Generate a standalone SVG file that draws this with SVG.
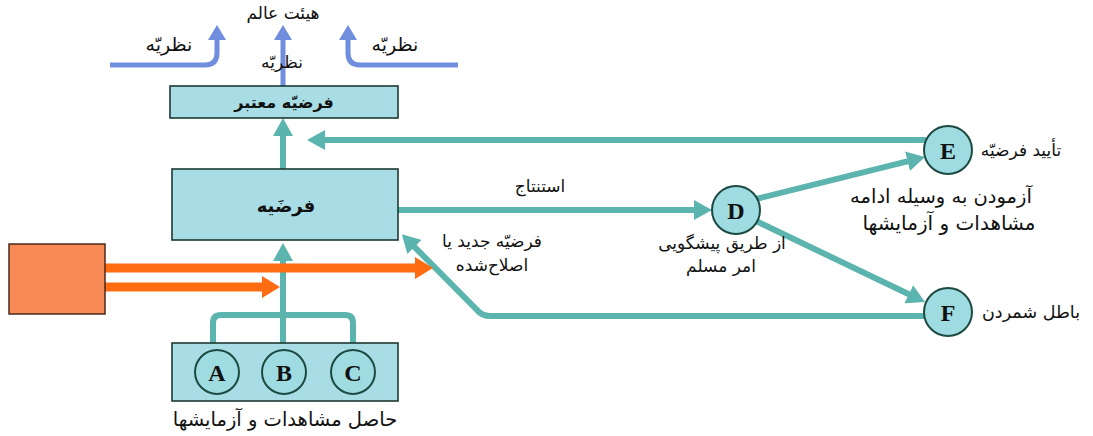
<svg xmlns="http://www.w3.org/2000/svg" width="1093" height="436" viewBox="0 0 1093 436">
<style>
.box{fill:#a8dde5;stroke:#1d3a32;stroke-width:1.6}
.node{fill:#9edce2;stroke:#1d4a40;stroke-width:2}
.teal{fill:none;stroke:#5cb4ae;stroke-width:6}
.blue{fill:none;stroke:#6f8ede;stroke-width:5}
.orange{fill:none;stroke:#ff6c12;stroke-width:9}
.fa{font-family:"DejaVu Sans","Noto Sans",sans-serif;font-size:17px;fill:#111}
.fab{font-family:"DejaVu Sans","Noto Sans",sans-serif;font-size:16px;font-weight:bold;fill:#111}
.let{font-family:"Liberation Serif",serif;font-size:24px;font-weight:bold;fill:#111}
</style>
<defs>
<marker id="mt" markerUnits="userSpaceOnUse" viewBox="0 0 18 20" markerWidth="18" markerHeight="20" refX="3" refY="10" orient="auto"><path d="M0,0 L18,10 L0,20 z" fill="#5cb4ae"/></marker>
<marker id="mb" markerUnits="userSpaceOnUse" viewBox="0 0 15 18" markerWidth="15" markerHeight="18" refX="3" refY="9" orient="auto"><path d="M0,0 L15,9 L0,18 z" fill="#6f8ede"/></marker>
<marker id="mo" markerUnits="userSpaceOnUse" viewBox="0 0 18 22" markerWidth="18" markerHeight="22" refX="3" refY="11" orient="auto"><path d="M0,0 L18,11 L0,22 z" fill="#ff6c12"/></marker>
</defs>
<rect width="1093" height="436" fill="#ffffff"/>
<g id="connectors">
<path class="blue" d="M110 65 H205 Q217 65 217 53 V37" marker-end="url(#mb)"/>
<path class="blue" d="M283 86 V37" marker-end="url(#mb)"/>
<path class="blue" d="M458 65 H360 Q348 65 348 53 V37" marker-end="url(#mb)"/>
<path class="teal" d="M283 169 V133" marker-end="url(#mt)"/>
<path class="teal" d="M926 140 H322" marker-end="url(#mt)"/>
<path class="teal" d="M398 210 H697" marker-end="url(#mt)"/>
<path class="teal" d="M756 199 L910.4 160.6" marker-end="url(#mt)"/>
<path class="teal" d="M756 221 L911.5 295.5" marker-end="url(#mt)"/>
<path class="teal" d="M924 316 H490 Q482 316 477 310 L412.4 244.8" marker-end="url(#mt)"/>
<path class="teal" d="M213 343 V323 Q213 315 221 315 H345 Q353 315 353 323 V343"/>
<path class="teal" d="M283 343 V258" marker-end="url(#mt)"/>
<path class="orange" d="M105 268 H418" marker-end="url(#mo)"/>
<path class="orange" d="M105 287 H265" marker-end="url(#mo)"/>
</g>
<g id="world">
<text class="fa" x="283" y="19" text-anchor="middle">هیئت عالم</text>
<text class="fa" x="169" y="51" text-anchor="middle" style="font-size:19px">نظریّه</text>
<text class="fa" x="395" y="51" text-anchor="middle" style="font-size:19px">نظریّه</text>
<text class="fa" x="282" y="68" text-anchor="middle">نظریّه</text>
</g>
<g id="valid">
<rect class="box" x="170" y="86" width="228" height="32"/>
<text class="fab" x="284" y="108" text-anchor="middle">فرضیّه معتبر</text>
</g>
<g id="hypothesis">
<rect class="box" x="172" y="169" width="226" height="71"/>
<text class="fab" x="286" y="212" text-anchor="middle" style="font-size:18px">فرضَیه</text>
</g>
<g id="orange-box">
<rect x="9" y="244" width="96" height="70" fill="#f88a56" stroke="#4a2a1a" stroke-width="1.5"/>
</g>
<g id="observations">
<rect class="box" x="172" y="343" width="226" height="58"/>
<circle class="node" cx="217" cy="372" r="22"/>
<text class="let" x="217" y="381" text-anchor="middle">A</text>
<circle class="node" cx="284" cy="372" r="22"/>
<text class="let" x="284" y="381" text-anchor="middle">B</text>
<circle class="node" cx="353" cy="372" r="22"/>
<text class="let" x="353" y="381" text-anchor="middle">C</text>
<text class="fa" x="285" y="426" text-anchor="middle" style="font-size:19.5px">حاصل مشاهدات و آزمایشها</text>
</g>
<g id="D">
<circle class="node" cx="736" cy="210" r="24"/>
<text class="let" x="736" y="219" text-anchor="middle">D</text>
<text class="fa" x="722" y="249" text-anchor="middle">از طریق پیشگویی</text>
<text class="fa" x="721" y="272" text-anchor="middle">امر مسلم</text>
</g>
<g id="E">
<circle class="node" cx="948" cy="150" r="24"/>
<text class="let" x="948" y="159" text-anchor="middle">E</text>
<text class="fa" x="1021" y="156" text-anchor="middle">تأیید فرضیّه</text>
</g>
<g id="F">
<circle class="node" cx="948" cy="312" r="24"/>
<text class="let" x="948" y="321" text-anchor="middle">F</text>
<text class="fa" x="1031" y="318" text-anchor="middle" style="font-size:17.5px">باطل شمردن</text>
</g>
<g id="labels">
<text class="fa" x="540" y="192" text-anchor="middle">استنتاج</text>
<text class="fa" x="492" y="247" text-anchor="middle">فرضیّه جدید یا</text>
<text class="fa" x="492" y="271" text-anchor="middle">اصلاح‌شده</text>
<text class="fa" x="941" y="203" text-anchor="middle" style="font-size:19.5px">آزمودن به وسیله ادامه</text>
<text class="fa" x="949" y="230" text-anchor="middle" style="font-size:20px">مشاهدات و آزمایشها</text>
</g>
</svg>
